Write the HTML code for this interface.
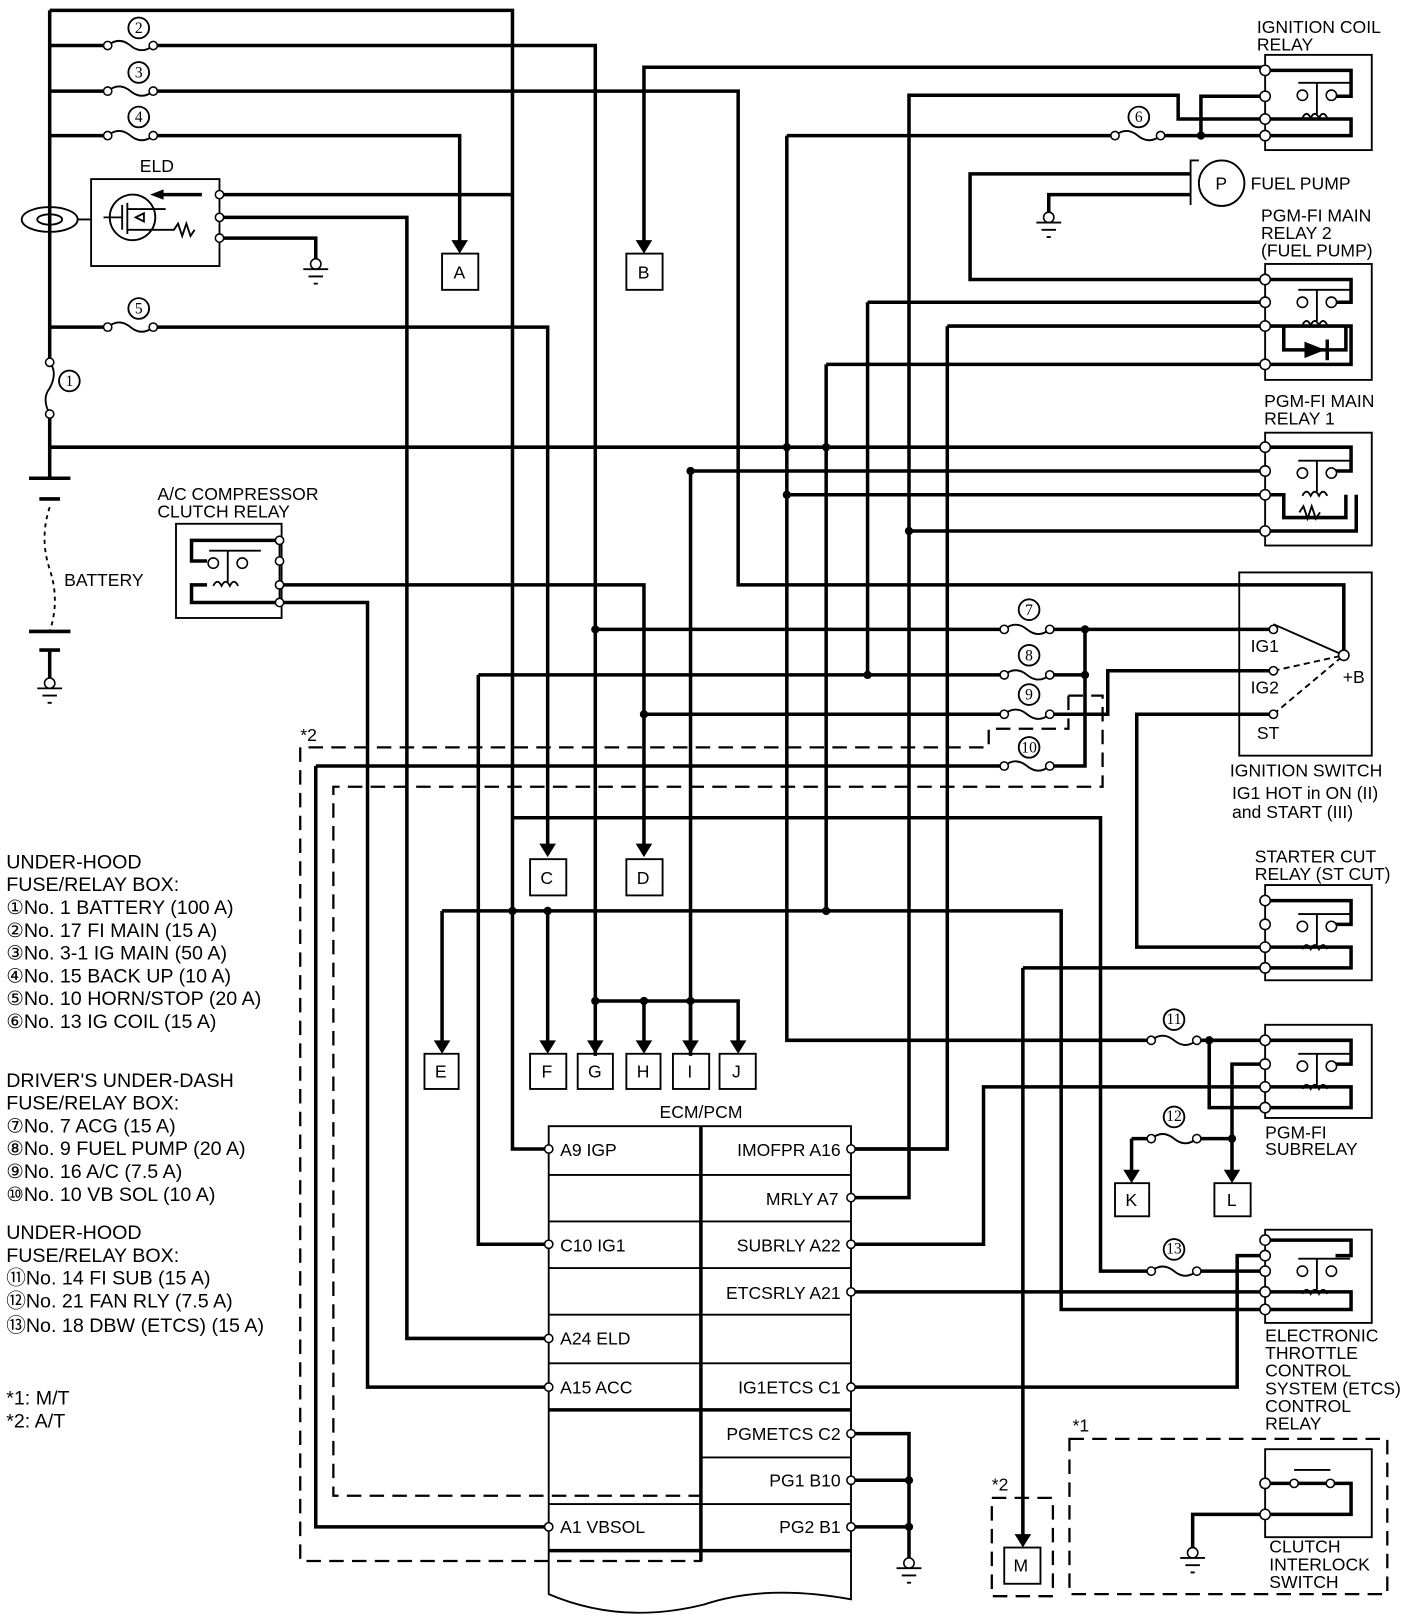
<!DOCTYPE html>
<html><head><meta charset="utf-8"><style>
html,body{margin:0;padding:0;background:#fff}
svg{display:block}
text{font-family:"Liberation Sans","DejaVu Sans",sans-serif;font-size:17px;fill:#000}
.n{font-family:"Liberation Serif",serif;font-size:15px;text-anchor:middle}
.w{fill:none;stroke:#000;stroke-width:3.4}
.t{fill:none;stroke:#000;stroke-width:1.8}
.d{fill:none;stroke:#000;stroke-width:2.2;stroke-dasharray:14 8}
.c{fill:#fff;stroke:#000;stroke-width:1.5}
</style></head><body>
<svg width="1408" height="1620" viewBox="0 0 1360 1565" preserveAspectRatio="none" xmlns="http://www.w3.org/2000/svg">
<defs>
<g id="fuse"><path class="t" d="M0 0 Q11 -9 22 0 T44 0"/><circle class="c" cx="0" cy="0" r="4"/><circle class="c" cx="44" cy="0" r="4"/></g>
<g id="gnd"><circle class="c" cx="0" cy="0" r="5"/><path class="t" d="M-12 5H12M-7 12H7M-2 19H2"/></g>
<g id="rel"><path class="t" d="M32 -20H82M50 -20V10"/><circle class="c" cx="36" cy="-8" r="5"/><circle class="c" cx="64" cy="-8" r="5"/><path class="t" d="M36 14q4-8 8 0q4-8 8 0q4-8 8 0"/></g>
<circle id="cn" cx="0" cy="0" r="10" class="t"/>
</defs>

<!-- left bus -->
<path class="w" d="M48 10V350M48 400V462M48 10H495V1110H530"/>
<path class="t" d="M48 350q8 10 0 25q-8 10 0 25"/><circle class="c" cx="48" cy="350" r="4"/><circle class="c" cx="48" cy="400" r="4"/>
<use href="#cn" x="67" y="368"/><text class="n" x="67" y="373">1</text>
<ellipse cx="48" cy="212" rx="27" ry="12" class="t"/><ellipse cx="48" cy="212" rx="12" ry="5" class="t"/>
<path class="t" d="M75 212H88"/>
<!-- battery -->
<path class="w" d="M28 462H68M38 482H58"/><path class="w" d="M28 610H68M38 628H58M48 628V655"/>
<path class="t" d="M48 490q-10 30 0 60q10 30 0 60" stroke-dasharray="4 4"/>
<text x="62" y="566">BATTERY</text>
<use href="#gnd" x="48" y="660"/>

<!-- fuse rows -->
<path class="w" d="M48 44H100M148 44H575V1020"/><use href="#fuse" x="104" y="44"/><use href="#cn" x="134" y="27"/><text class="n" x="134" y="32">2</text>
<path class="w" d="M48 88H100M148 88H713V565H1298V633"/><use href="#fuse" x="104" y="88"/><use href="#cn" x="134" y="70"/><text class="n" x="134" y="75">3</text>
<path class="w" d="M48 131H100M148 131H444V240"/><use href="#fuse" x="104" y="131"/><use href="#cn" x="134" y="113"/><text class="n" x="134" y="118">4</text>
<path d="M436 232H452L444 245Z"/>
<path class="w" d="M48 316H100M148 316H529V823"/><use href="#fuse" x="104" y="316"/><use href="#cn" x="134" y="298"/><text class="n" x="134" y="303">5</text>
<path d="M521 815H537L529 828Z"/>
<path class="w" d="M48 432H1222"/>

<!-- ELD -->
<text x="135" y="166">ELD</text>
<rect x="88" y="173" width="124" height="84" class="t"/>
<path class="w" d="M212 188H495M212 210H393V1293H530M212 230H305V250"/>
<path class="w" d="M195 188H155"/><path d="M145 188L158 183V193Z"/>
<circle cx="128" cy="210" r="22" class="t"/><path class="t" d="M100 210H118M118 198V222M123 196V226M123 202H160M123 222H160M131 210l8-4v8zM160 222h8l4-6 4 12 4-12 4 12 4-6"/>
<circle class="c" cx="212" cy="188" r="4"/><circle class="c" cx="212" cy="210" r="4"/><circle class="c" cx="212" cy="230" r="4"/>
<use href="#gnd" x="305" y="255"/>

<!-- boxes A B -->
<rect x="427" y="245" width="35" height="35" class="t"/><text x="438" y="269">A</text>
<path class="w" d="M1222 65H622V240"/><path d="M614 232H630L622 245Z"/>
<rect x="605" y="245" width="35" height="35" class="t"/><text x="616" y="269">B</text>

<!-- Ignition coil relay -->
<text x="1214" y="32">IGNITION COIL</text><text x="1214" y="49">RELAY</text>
<rect x="1222" y="53" width="103" height="92" class="t"/>
<path class="w" d="M1222 68H1305V93H1290M1222 115H1305V131H1222"/>
<path class="w" d="M1222 93H1160V131M1222 115H1138V92H878V1157H822"/>
<path class="w" d="M760 131H1075M1120 131H1222M760 131V1005H1110M1155 1005H1222"/>
<use href="#fuse" x="1077" y="131"/><use href="#cn" x="1100" y="113"/><text class="n" x="1100" y="118">6</text>
<use href="#rel" x="1222" y="100"/>
<circle cx="1160" cy="131" r="4"/>
<circle class="c" cx="1222" cy="68" r="5"/><circle class="c" cx="1222" cy="93" r="5"/><circle class="c" cx="1222" cy="115" r="5"/><circle class="c" cx="1222" cy="131" r="5"/>

<!-- fuel pump -->
<circle cx="1180" cy="177" r="22" class="t"/><text x="1174" y="183">P</text><text x="1208" y="183">FUEL PUMP</text>
<path class="t" d="M1158 155H1150V198"/>
<path class="w" d="M1150 168H937V270H1222M1150 188H1013V205"/>
<use href="#gnd" x="1013" y="210"/>

<!-- main relay 2 -->
<text x="1218" y="214">PGM-FI MAIN</text><text x="1218" y="231">RELAY 2</text><text x="1218" y="248">(FUEL PUMP)</text>
<rect x="1222" y="255" width="103" height="112" class="t"/>
<path class="w" d="M1222 270H1305V292H1290M838 292H1222M915 315H1222M798 352H1222M1222 315H1305V352H1222M838 292V652M915 315V1110H822M798 352V880"/>
<use href="#rel" x="1222" y="300"/>
<path class="w" d="M1240 315V338H1300V315"/><path d="M1260 330L1280 338L1260 346Z"/><path class="w" d="M1282 328V348"/>
<circle class="c" cx="1222" cy="270" r="5"/><circle class="c" cx="1222" cy="292" r="5"/><circle class="c" cx="1222" cy="315" r="5"/><circle class="c" cx="1222" cy="352" r="5"/>

<!-- main relay 1 -->
<text x="1221" y="393">PGM-FI MAIN</text><text x="1221" y="410">RELAY 1</text>
<rect x="1222" y="418" width="103" height="109" class="t"/>
<path class="w" d="M1222 432H1305V455H1290M667 455H1222V455M760 478H1222M878 513H1222M1222 478H1240V500H1300V478M1222 513H1310V478M667 455V1020"/>
<use href="#rel" x="1222" y="465"/><path class="t" d="M1255 495l4-6 4 12 4-12 4 12 4-6"/>
<circle cx="760" cy="432" r="4"/><circle cx="798" cy="432" r="4"/><circle cx="667" cy="455" r="4"/><circle cx="760" cy="478" r="4"/><circle cx="878" cy="513" r="4"/>
<circle class="c" cx="1222" cy="432" r="5"/><circle class="c" cx="1222" cy="455" r="5"/><circle class="c" cx="1222" cy="478" r="5"/><circle class="c" cx="1222" cy="513" r="5"/>

<!-- A/C relay -->
<text x="152" y="483">A/C COMPRESSOR</text><text x="152" y="500">CLUTCH RELAY</text>
<rect x="170" y="506" width="102" height="91" class="t"/>
<path class="w" d="M270 522H185V542H200M270 582H185V565H200M270 565H622V823M270 582H355V1340H530"/>
<path class="t" d="M270 522V582"/>
<use href="#rel" x="170" y="552"/>
<path d="M614 815H630L622 828Z"/>
<circle class="c" cx="270" cy="522" r="4"/><circle class="c" cx="270" cy="542" r="4"/><circle class="c" cx="270" cy="565" r="4"/><circle class="c" cx="270" cy="582" r="4"/>

<!-- ignition switch -->
<rect x="1197" y="553" width="128" height="177" class="t"/>
<path class="w" d="M575 608H970M1015 608H1230"/><use href="#fuse" x="970" y="608"/><use href="#cn" x="994" y="589"/><text class="n" x="994" y="594">7</text>
<path class="w" d="M462 652H970M1015 652H1048M462 652V1202H530"/><use href="#fuse" x="970" y="652"/><use href="#cn" x="994" y="633"/><text class="n" x="994" y="638">8</text>
<path class="w" d="M622 690H970M1015 690H1070V648H1230"/><use href="#fuse" x="970" y="690"/><use href="#cn" x="994" y="671"/><text class="n" x="994" y="676">9</text>
<path class="w" d="M305 740H970M1015 740H1048V608M305 740V1475H530"/><use href="#fuse" x="970" y="740"/><use href="#cn" x="994" y="722"/><text class="n" x="994" y="727" font-size="12">10</text>
<circle cx="575" cy="608" r="4"/><circle cx="1048" cy="608" r="4"/><circle cx="1048" cy="652" r="4"/><circle cx="838" cy="652" r="4"/><circle cx="622" cy="690" r="4"/>
<path class="w" d="M1230 690H1098V915H1222"/>
<path class="t" d="M1230 603L1298 633"/><path class="t" d="M1230 648L1298 633M1230 690L1298 633" stroke-dasharray="6 4"/>
<circle class="c" cx="1298" cy="633" r="5"/><circle class="c" cx="1230" cy="608" r="4"/><circle class="c" cx="1230" cy="648" r="4"/><circle class="c" cx="1230" cy="690" r="4"/>
<text x="1208" y="630">IG1</text><text x="1208" y="670">IG2</text><text x="1214" y="714">ST</text><text x="1297" y="660">+B</text>
<text x="1188" y="750">IGNITION SWITCH</text><text x="1190" y="772">IG1 HOT in ON (II)</text><text x="1190" y="790">and START (III)</text>

<!-- dashed -->
<path class="d" d="M1032 672V704H955V722H290V1508H677V1498"/>
<path class="d" d="M1032 672H1065V760H322V1445H677"/>
<text x="290" y="716">*2</text>

<!-- junction lines -->
<path class="w" d="M495 790H1063V1228H1110M1155 1228H1222"/><use href="#fuse" x="1112" y="1228"/><use href="#cn" x="1134" y="1207"/><text class="n" x="1134" y="1211" font-size="12">13</text>
<path class="w" d="M427 880H1025V1265H1222M427 880V1013M529 880V1013"/>
<path d="M419 1005H435L427 1018Z"/><path d="M521 1005H537L529 1018Z"/>
<circle cx="495" cy="880" r="4"/><circle cx="529" cy="880" r="4"/><circle cx="798" cy="880" r="4"/>
<path class="w" d="M575 967H713V1013M622 967V1013M667 967V1013"/>
<path d="M567 1005H583L575 1018Z"/><path d="M614 1005H630L622 1018Z"/><path d="M659 1005H675L667 1018Z"/><path d="M705 1005H721L713 1018Z"/>
<circle cx="575" cy="967" r="4"/><circle cx="622" cy="967" r="4"/><circle cx="667" cy="967" r="4"/>
<rect x="512" y="830" width="35" height="35" class="t"/><text x="522" y="854">C</text>
<rect x="605" y="830" width="35" height="35" class="t"/><text x="615" y="854">D</text>
<rect x="410" y="1018" width="33" height="34" class="t"/><text x="420" y="1041">E</text>
<rect x="512" y="1018" width="35" height="34" class="t"/><text x="523" y="1041">F</text>
<rect x="558" y="1018" width="34" height="34" class="t"/><text x="568" y="1041">G</text>
<rect x="605" y="1018" width="33" height="34" class="t"/><text x="615" y="1041">H</text>
<rect x="650" y="1018" width="35" height="34" class="t"/><text x="664" y="1041">I</text>
<rect x="695" y="1018" width="35" height="34" class="t"/><text x="707" y="1041">J</text>

<!-- starter cut -->
<text x="1212" y="833">STARTER CUT</text><text x="1212" y="850">RELAY (ST CUT)</text>
<rect x="1222" y="855" width="103" height="92" class="t"/>
<path class="w" d="M1222 870H1305V893H1290M1222 915H1305V935H1222M988 935H1222M988 935V1490"/>
<use href="#rel" x="1222" y="903"/>
<path d="M980 1482H996L988 1495Z"/>
<circle class="c" cx="1222" cy="870" r="5"/><circle class="c" cx="1222" cy="893" r="5"/><circle class="c" cx="1222" cy="915" r="5"/><circle class="c" cx="1222" cy="935" r="5"/>

<!-- subrelay -->
<rect x="1222" y="990" width="103" height="90" class="t"/>
<path class="w" d="M1222 1005H1305V1028H1290M1222 1050H1305V1070H1222M1168 1005V1070H1222M1222 1028H1190V1138M820 1202H950V1050H1222"/>
<use href="#fuse" x="1112" y="1005"/><use href="#cn" x="1134" y="985"/><text class="n" x="1134" y="989" font-size="12">11</text>
<path class="w" d="M1093 1100H1110M1155 1100H1190M1093 1100V1138"/><use href="#fuse" x="1112" y="1100"/><use href="#cn" x="1134" y="1079"/><text class="n" x="1134" y="1083" font-size="12">12</text>
<path d="M1085 1130H1101L1093 1143Z"/><path d="M1182 1130H1198L1190 1143Z"/>
<circle cx="1168" cy="1005" r="4"/><circle cx="1190" cy="1100" r="4"/>
<rect x="1077" y="1143" width="33" height="32" class="t"/><text x="1087" y="1165">K</text>
<rect x="1173" y="1143" width="35" height="32" class="t"/><text x="1185" y="1165">L</text>
<use href="#rel" x="1222" y="1038"/>
<circle class="c" cx="1222" cy="1005" r="5"/><circle class="c" cx="1222" cy="1028" r="5"/><circle class="c" cx="1222" cy="1050" r="5"/><circle class="c" cx="1222" cy="1070" r="5"/>
<text x="1222" y="1100">PGM-FI</text><text x="1222" y="1116">SUBRELAY</text>

<!-- ETCS relay -->
<rect x="1222" y="1188" width="103" height="90" class="t"/>
<path class="w" d="M1222 1198H1305V1213H1290M1222 1248H1305V1265H1222M820 1248H1222M820 1340H1195V1213H1222"/>
<use href="#rel" x="1222" y="1236"/>
<circle class="c" cx="1222" cy="1198" r="5"/><circle class="c" cx="1222" cy="1213" r="5"/><circle class="c" cx="1222" cy="1228" r="5"/><circle class="c" cx="1222" cy="1248" r="5"/><circle class="c" cx="1222" cy="1265" r="5"/>
<text x="1222" y="1296">ELECTRONIC</text><text x="1222" y="1313">THROTTLE</text><text x="1222" y="1330">CONTROL</text><text x="1222" y="1347">SYSTEM (ETCS)</text><text x="1222" y="1364">CONTROL</text><text x="1222" y="1381">RELAY</text>

<!-- clutch -->
<text x="1036" y="1383">*1</text>
<rect x="1033" y="1390" width="307" height="150" class="d"/>
<rect x="1222" y="1400" width="103" height="85" class="t"/>
<path class="w" d="M1222 1433H1305V1463H1222H1152V1495"/>
<path class="t" d="M1250 1420H1285"/><circle class="c" cx="1250" cy="1433" r="4"/><circle class="c" cx="1285" cy="1433" r="4"/>
<circle class="c" cx="1222" cy="1433" r="5"/><circle class="c" cx="1222" cy="1463" r="5"/>
<use href="#gnd" x="1152" y="1500"/>
<text x="1226" y="1500">CLUTCH</text><text x="1226" y="1517">INTERLOCK</text><text x="1226" y="1534">SWITCH</text>
<text x="958" y="1440">*2</text>
<rect x="958" y="1447" width="59" height="95" class="d"/>
<rect x="970" y="1495" width="35" height="35" class="t"/><text x="979" y="1518">M</text>

<!-- ECM -->
<text x="637" y="1080">ECM/PCM</text>
<path class="t" d="M530 1088H822V1545Q740 1530 680 1550Q600 1570 530 1540Z"/>
<path class="w" d="M677 1088V1508M530 1362H822M530 1498H822"/>
<path class="t" d="M530 1135H822M530 1180H822M530 1225H822M530 1270H822M530 1317H822M530 1453H822M677 1408H822"/>
<path class="w" d="M820 1110H915M820 1385H878V1505M820 1430H878M820 1475H878"/>
<circle cx="878" cy="1430" r="4"/><circle cx="878" cy="1475" r="4"/>
<use href="#gnd" x="878" y="1510"/>
<circle class="c" cx="530" cy="1110" r="4"/><circle class="c" cx="530" cy="1202" r="4"/><circle class="c" cx="530" cy="1293" r="4"/><circle class="c" cx="530" cy="1340" r="4"/><circle class="c" cx="530" cy="1475" r="4"/>
<circle class="c" cx="822" cy="1110" r="4"/><circle class="c" cx="822" cy="1157" r="4"/><circle class="c" cx="822" cy="1202" r="4"/><circle class="c" cx="822" cy="1248" r="4"/><circle class="c" cx="822" cy="1340" r="4"/><circle class="c" cx="822" cy="1385" r="4"/><circle class="c" cx="822" cy="1430" r="4"/><circle class="c" cx="822" cy="1475" r="4"/>
<text x="541" y="1117">A9 IGP</text><text x="541" y="1209">C10 IG1</text><text x="541" y="1299">A24 ELD</text><text x="541" y="1346">A15 ACC</text><text x="541" y="1481">A1 VBSOL</text>
<text x="812" y="1117" text-anchor="end">IMOFPR A16</text><text x="810" y="1164" text-anchor="end">MRLY A7</text><text x="812" y="1209" text-anchor="end">SUBRLY A22</text><text x="812" y="1255" text-anchor="end">ETCSRLY A21</text><text x="812" y="1346" text-anchor="end">IG1ETCS C1</text><text x="812" y="1391" text-anchor="end">PGMETCS C2</text><text x="812" y="1436" text-anchor="end">PG1 B10</text><text x="812" y="1481" text-anchor="end">PG2 B1</text>

<!-- legend -->
<g style="font-size:19px">
<text x="6" y="839" style="font-size:19px">UNDER-HOOD</text><text x="6" y="861" style="font-size:19px">FUSE/RELAY BOX:</text>
<text x="6" y="883" style="font-size:19px">①No. 1 BATTERY (100 A)</text><text x="6" y="905" style="font-size:19px">②No. 17 FI MAIN (15 A)</text><text x="6" y="927" style="font-size:19px">③No. 3-1 IG MAIN (50 A)</text><text x="6" y="949" style="font-size:19px">④No. 15 BACK UP (10 A)</text><text x="6" y="971" style="font-size:19px">⑤No. 10 HORN/STOP (20 A)</text><text x="6" y="993" style="font-size:19px">⑥No. 13 IG COIL (15 A)</text>
<text x="6" y="1050" style="font-size:19px">DRIVER'S UNDER-DASH</text><text x="6" y="1072" style="font-size:19px">FUSE/RELAY BOX:</text>
<text x="6" y="1094" style="font-size:19px">⑦No. 7 ACG (15 A)</text><text x="6" y="1116" style="font-size:19px">⑧No. 9 FUEL PUMP (20 A)</text><text x="6" y="1138" style="font-size:19px">⑨No. 16 A/C (7.5 A)</text><text x="6" y="1160" style="font-size:19px">⑩No. 10 VB SOL (10 A)</text>
<text x="6" y="1197" style="font-size:19px">UNDER-HOOD</text><text x="6" y="1219" style="font-size:19px">FUSE/RELAY BOX:</text>
<text x="6" y="1241" style="font-size:19px">⑪No. 14 FI SUB (15 A)</text><text x="6" y="1263" style="font-size:19px">⑫No. 21 FAN RLY (7.5 A)</text><text x="6" y="1287" style="font-size:19px">⑬No. 18 DBW (ETCS) (15 A)</text>
<text x="6" y="1357" style="font-size:19px">*1: M/T</text><text x="6" y="1379" style="font-size:19px">*2: A/T</text>
</g>
</svg>
</body></html>
